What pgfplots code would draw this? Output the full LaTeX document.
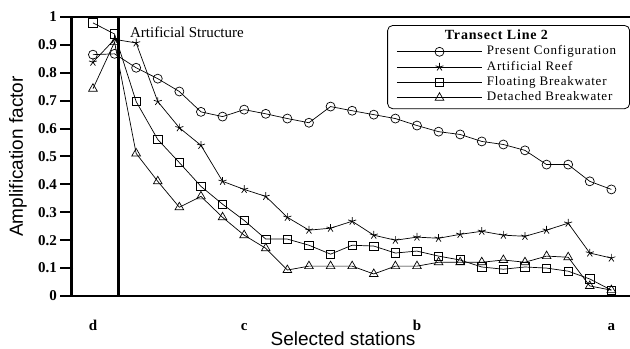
\documentclass[border=0pt]{standalone}
\usepackage{pgfplots}
\pgfplotsset{compat=1.18}
\usepackage{pgfplotstable}
\usepackage{fontspec}
\setmainfont{Liberation Serif}
\newfontfamily\arial{Liberation Sans}
\newfontfamily\legfont[LetterSpace=6]{Liberation Serif}

\pgfplotstableread{
x  pc     ar     fb     db
0  0.865  0.838  0.979  0.743
1  0.868  0.920  0.939  0.910
2  0.818  0.907  0.697  0.511
3  0.779  0.697  0.561  0.411
4  0.733  0.603  0.478  0.318
5  0.660  0.540  0.393  0.357
6  0.643  0.411  0.329  0.282
7  0.668  0.382  0.271  0.218
8  0.653  0.357  0.204  0.171
9  0.636  0.282  0.204  0.093
10 0.621  0.236  0.182  0.107
11 0.679  0.243  0.150  0.107
12 0.664  0.268  0.182  0.107
13 0.650  0.218  0.179  0.079
14 0.636  0.200  0.154  0.107
15 0.611  0.211  0.161  0.107
16 0.589  0.207  0.143  0.121
17 0.579  0.221  0.129  0.121
18 0.554  0.232  0.104  0.121
19 0.543  0.218  0.096  0.129
20 0.522  0.214  0.104  0.121
21 0.471  0.236  0.100  0.143
22 0.471  0.261  0.089  0.139
23 0.411  0.154  0.061  0.036
24 0.382  0.136  0.021  0.021
}\data

\begin{document}
\begin{tikzpicture}
\useasboundingbox (-72bp,-53bp) rectangle (558bp,296bp);
\begin{axis}[
  at={(0,0)}, anchor=south west,
  scale only axis,
  width=564bp, height=279bp,
  xmin=-0.97, xmax=25.14,
  ymin=0, ymax=1,
  separate axis lines,
  x axis line style={line width=2bp},
  y axis line style={line width=3bp},
  xtick={0,7,15,24},
  xticklabels={d,c,b,a},
  xtick style={draw=none},
  ytick={0,0.1,0.2,0.3,0.4,0.5,0.6,0.7,0.8,0.9,1},
  yticklabels={0,0.1,0.2,0.3,0.4,0.5,0.6,0.7,0.8,0.9,1},
  ytick pos=left,
  tick align=outside,
  major tick length=12bp,
  tick label style={font=\bfseries\fontsize{15bp}{18bp}\selectfont},
  xticklabel style={anchor=base, yshift=-22bp, inner sep=0pt},
  yticklabel style={anchor=east, inner sep=0pt, xshift=-3bp},
  xlabel={Selected stations},
  ylabel={Amplification factor},
  every axis x label/.style={at={(axis description cs:0.4805,0)}, yshift=-43bp, anchor=center, font=\arial\fontsize{19bp}{22bp}\selectfont},
  every axis y label/.style={at={(axis description cs:0,0.5)}, xshift=-54bp, rotate=90, anchor=center, font=\arial\fontsize{19bp}{22bp}\selectfont},
  legend style={
    at={(axis description cs:0.9894,0.971)}, anchor=north east,
    draw=black, rounded corners=5bp, line width=0.8bp,
    font=\legfont\fontsize{13bp}{15bp}\selectfont,
    inner xsep=9bp, inner ysep=4bp,
    nodes={inner xsep=4.5bp, inner ysep=1bp, text height=9bp, text depth=3bp},
    row sep=1.3bp,
    legend cell align=left,
  },
  legend image code/.code={
    \draw[mark repeat=2,mark phase=2,#1] plot coordinates {(0bp,0bp) (42.5bp,0bp) (85bp,0bp)};
  },
  every axis plot/.append style={black, line width=0.7bp, mark options={solid, fill=white, line width=0.7bp}},
  clip=false,
]
\addlegendimage{empty legend}
\addlegendentry{\hspace*{-42bp}\textbf{\fontsize{14bp}{15bp}\selectfont Transect Line 2}}
\addplot[mark=o, mark size=4.5bp] table[x=x,y=pc] {\data};
\addlegendentry{Present Configuration}
\addplot[mark=star, mark size=4.2bp] table[x=x,y=ar] {\data};
\addlegendentry{Artificial Reef}
\addplot[mark=square, mark size=4.2bp] table[x=x,y=fb] {\data};
\addlegendentry{Floating Breakwater}
\addplot[mark=triangle, mark size=5bp] table[x=x,y=db] {\data};
\addlegendentry{Detached Breakwater}
\addplot[line width=3bp, no marks, forget plot] coordinates {(1.2,0) (1.2,1)};
\node[anchor=base west, inner sep=0pt, font=\fontsize{15bp}{18bp}\selectfont] at (axis cs:1.71,0.925) {Artificial Structure};
\end{axis}
\foreach \i in {0,...,10} {
  \draw[line width=2bp, black] (1bp,{\i*27.9bp}) -- ++(-13bp,0bp);
}
\end{tikzpicture}
\end{document}
